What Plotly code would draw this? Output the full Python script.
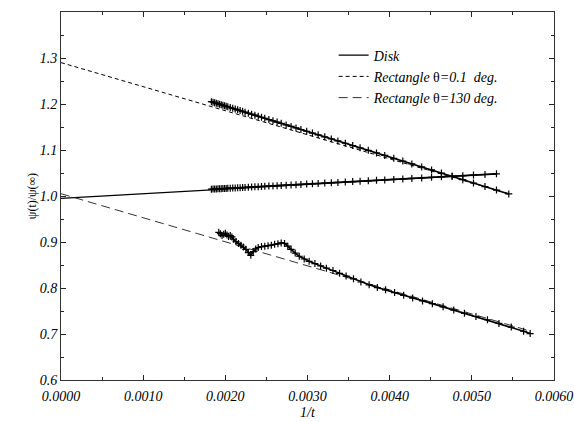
import plotly.graph_objects as go

# ---- data ----
inv_t = [0.00183, 0.00185, 0.00187, 0.00189, 0.00191, 0.00193, 0.00195, 0.00197, 0.00199, 0.00201,
         0.00203, 0.00206, 0.00209, 0.00212, 0.00215, 0.00218, 0.00221, 0.00224, 0.00228, 0.00232,
         0.00236, 0.00240, 0.00244, 0.00248, 0.00253, 0.00258, 0.00263, 0.00268, 0.00274, 0.00280,
         0.00286, 0.00292, 0.00299, 0.00306, 0.00313, 0.00321, 0.00329, 0.00337, 0.00346, 0.00355,
         0.00364, 0.00374, 0.00384, 0.00394, 0.00405, 0.00416, 0.00427, 0.00439, 0.00451, 0.00463,
         0.00476, 0.00489, 0.00502, 0.00516, 0.00530, 0.00545]

disk = [1.0148, 1.0150, 1.0152, 1.0153, 1.0155, 1.0157, 1.0159, 1.0161, 1.0163, 1.0165,
        1.0167, 1.0170, 1.0173, 1.0176, 1.0178, 1.0181, 1.0184, 1.0187, 1.0191, 1.0195,
        1.0199, 1.0202, 1.0206, 1.0210, 1.0215, 1.0220, 1.0224, 1.0229, 1.0235, 1.0241,
        1.0247, 1.0252, 1.0259, 1.0266, 1.0272, 1.0280, 1.0288, 1.0296, 1.0304, 1.0313,
        1.0321, 1.0331, 1.0341, 1.0350, 1.0361, 1.0371, 1.0382, 1.0393, 1.0405, 1.0416,
        1.0429, 1.0441, 1.0454, 1.0467, 1.0481]

rect01 = [1.2050, 1.2039, 1.2028, 1.2017, 1.2006, 1.1995, 1.1984, 1.1973, 1.1962, 1.1951,
          1.1939, 1.1923, 1.1906, 1.1890, 1.1873, 1.1856, 1.1840, 1.1823, 1.1801, 1.1779,
          1.1757, 1.1734, 1.1712, 1.1690, 1.1662, 1.1635, 1.1607, 1.1579, 1.1546, 1.1513,
          1.1480, 1.1446, 1.1408, 1.1369, 1.1330, 1.1286, 1.1241, 1.1197, 1.1147, 1.1097,
          1.1048, 1.0992, 1.0937, 1.0881, 1.0820, 1.0759, 1.0698, 1.0632, 1.0566, 1.0499,
          1.0427, 1.0355, 1.0283, 1.0205, 1.0128, 1.0045]

inv_t_130 = [0.00192, 0.00194, 0.00196, 0.00198, 0.00200, 0.00202, 0.00204, 0.00206, 0.00208, 0.00210,
             0.00213, 0.00216, 0.00219, 0.00222, 0.00225, 0.00228, 0.00231, 0.00234, 0.00237, 0.00240,
             0.00244, 0.00248, 0.00252, 0.00256, 0.00260, 0.00264, 0.00268, 0.00272, 0.00276, 0.00280,
             0.00285, 0.00290, 0.00296, 0.00302, 0.00309, 0.00316, 0.00323, 0.00331, 0.00339, 0.00347,
             0.00356, 0.00365, 0.00375, 0.00385, 0.00395, 0.00406, 0.00417, 0.00428, 0.00440, 0.00452,
             0.00465, 0.00478, 0.00491, 0.00505, 0.00519, 0.00533, 0.00548, 0.00563, 0.00571]

rect130 = [0.921, 0.918, 0.914, 0.917, 0.919, 0.915, 0.912, 0.914, 0.911, 0.906,
           0.901, 0.897, 0.893, 0.889, 0.884, 0.877, 0.871, 0.879, 0.885, 0.888,
           0.890, 0.891, 0.892, 0.893, 0.895, 0.896, 0.898, 0.897, 0.891, 0.884,
           0.876, 0.869, 0.863, 0.858, 0.853, 0.848, 0.843, 0.838, 0.832, 0.826,
           0.820, 0.813, 0.807, 0.801, 0.796, 0.790, 0.784, 0.778, 0.772, 0.766,
           0.759, 0.752, 0.745, 0.738, 0.731, 0.723, 0.715, 0.706, 0.701]

# linear fits (end points)
fit_disk_x = [0.0, 0.0053]
fit_disk_y = [0.995, 1.048]
fit_rect01_x = [0.0, 0.00545]
fit_rect01_y = [1.290, 1.005]
fit_rect130_x = [0.0, 0.0057]
fit_rect130_y = [1.005, 0.707]

x_ticks = [0.0, 0.001, 0.002, 0.003, 0.004, 0.005, 0.006]
y_ticks = [0.6, 0.7, 0.8, 0.9, 1.0, 1.1, 1.2, 1.3]

SERIF = "Liberation Serif, Times New Roman, serif"

fig = go.Figure()

# fit lines (shown in legend)
fig.add_trace(go.Scatter(x=fit_disk_x, y=fit_disk_y, mode="lines",
                         line=dict(color="black", width=1.2),
                         name="<i>Disk</i>"))
fig.add_trace(go.Scatter(x=fit_rect01_x, y=fit_rect01_y, mode="lines",
                         line=dict(color="black", width=1, dash="4px,3px"),
                         name="<i>Rectangle </i>θ<i>=0.1  deg.</i>"))
fig.add_trace(go.Scatter(x=fit_rect130_x, y=fit_rect130_y, mode="lines",
                         line=dict(color="#333", width=1, dash="9px,5px"),
                         name="<i>Rectangle </i>θ<i>=130 deg.</i>"))

# data with + markers
marker = dict(symbol="cross-thin", size=5, line=dict(color="black", width=1.2))
for xs, ys in [(inv_t[:len(disk)], disk), (inv_t, rect01), (inv_t_130, rect130)]:
    fig.add_trace(go.Scatter(x=xs, y=ys, mode="lines+markers", marker=marker,
                             line=dict(color="black", width=1.6), showlegend=False))

axis_common = dict(showline=True, linecolor="#333", linewidth=1, mirror="allticks",
                   ticks="inside", ticklen=5, tickcolor="#222", showgrid=False, zeroline=False,
                   automargin=False,
                   tickfont=dict(family=SERIF, size=14, style="italic", color="black"))

fig.update_xaxes(range=[0, 0.006], tickvals=x_ticks, tickformat=".4f",
                 ticklabelstandoff=3,
                 minor=dict(ticks="inside", ticklen=3, dtick=0.0005, tick0=0, tickcolor="#222"),
                 title=dict(text="<i>1/t</i>", font=dict(family=SERIF, size=14, color="black"),
                            standoff=4),
                 **axis_common)
fig.update_yaxes(range=[0.6, 1.4], tickvals=y_ticks, tickformat=".1f",
                 minor=dict(ticks="inside", ticklen=3, dtick=0.05, tick0=0, tickcolor="#222"),
                 title=dict(text="ψ(t)/ψ(∞)", font=dict(family=SERIF, size=12, color="black"),
                            standoff=0),
                 **axis_common)

fig.update_layout(
    width=574, height=422,
    margin=dict(l=61, r=20, t=12, b=42),
    plot_bgcolor="white", paper_bgcolor="white",
    legend=dict(x=0.553, y=0.925, xanchor="left", yanchor="top",
                font=dict(family=SERIF, size=14, color="black"),
                bgcolor="rgba(0,0,0,0)", tracegroupgap=0, itemwidth=30),
)

fig.write_html("out.html")
